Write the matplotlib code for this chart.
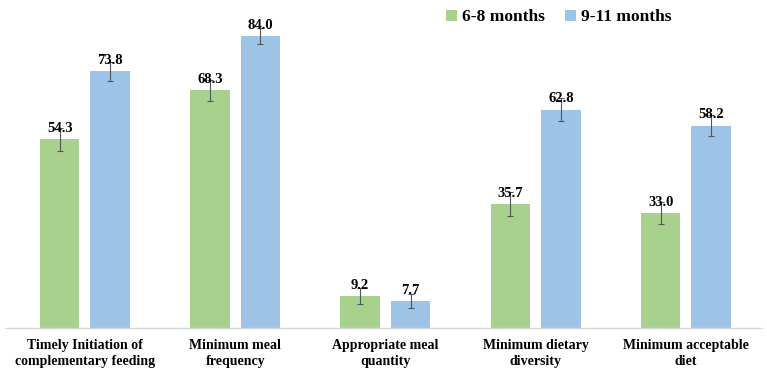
import numpy as np
import matplotlib.pyplot as plt

# Data
categories = ["Timely Initiation of\ncomplementary feeding", "Minimum meal\nfrequency",
              "Appropriate meal\nquantity", "Minimum dietary\ndiversity", "Minimum acceptable\ndiet"]
age_6_8 = [54.3, 68.3, 9.2, 35.7, 33.0]
age_9_11 = [73.8, 84.0, 7.7, 62.8, 58.2]
err_6_8 = [3.3, 2.9, 2.3, 3.4, 3.2]
err_9_11 = [2.8, 2.3, 2.0, 3.2, 3.1]
series_names = ["6-8 months", "9-11 months"]

green = "#A9D18E"
blue = "#9DC3E6"

plt.rcParams['font.family'] = ['Liberation Serif', 'DejaVu Serif']

fig = plt.figure(figsize=(7.67, 3.78), dpi=100)
ax = fig.add_axes([5 / 767, 50 / 378, 757 / 767, 313 / 378])

x = np.arange(len(categories))
w = 0.263
off = 0.168
err_kw = dict(ecolor="#555555", elinewidth=0.8, capsize=2, capthick=0.8)
b1 = ax.bar(x - off, age_6_8, w, color=green, yerr=err_6_8, error_kw=err_kw, label=series_names[0])
b2 = ax.bar(x + off, age_9_11, w, color=blue, yerr=err_9_11, error_kw=err_kw, label=series_names[1])

for bars, vals in [(b1, age_6_8), (b2, age_9_11)]:
    for rect, v in zip(bars, vals):
        ax.annotate(f"{v:.1f}", (rect.get_x() + rect.get_width() / 2, v),
                    xytext=(0, 3), textcoords="offset points", ha="center", va="bottom",
                    fontsize=10.5, fontweight="bold")

ax.set_xlim(-0.532, 4.506)
ax.set_ylim(0, 90)
ax.set_xticks(x)
ax.set_xticklabels(categories, fontsize=10, fontweight="bold", linespacing=1.3)
ax.tick_params(axis="x", length=0, pad=8)
ax.set_yticks([])
for s in ["top", "right", "left"]:
    ax.spines[s].set_visible(False)
ax.spines["bottom"].set_color("#D9D9D9")
ax.spines["bottom"].set_linewidth(1)

fig.legend(loc="upper left", bbox_to_anchor=(434 / 767, 1.0 + 3 / 378), ncol=2, frameon=False,
           prop={"size": 12.5, "weight": "bold"}, handlelength=0.6, handleheight=0.6,
           handletextpad=0.3, columnspacing=1.2, borderaxespad=0.3)

fig.savefig("out.png", dpi=100)
